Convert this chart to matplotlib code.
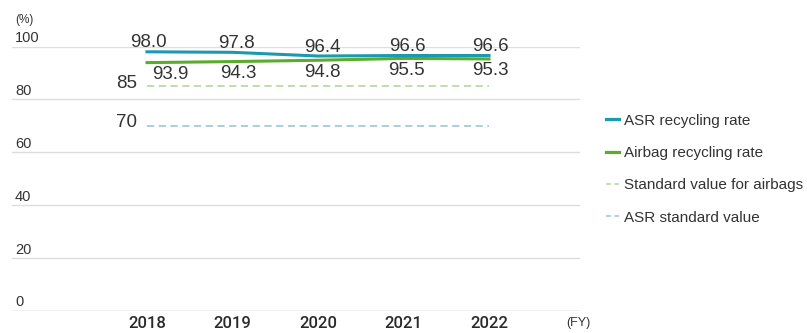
import matplotlib
matplotlib.use("Agg")
import matplotlib.pyplot as plt
from matplotlib.lines import Line2D

plt.rcParams['font.family'] = ['Liberation Sans', 'DejaVu Sans']

years = ["2018", "2019", "2020", "2021", "2022"]
asr_rate = [98.0, 97.8, 96.4, 96.6, 96.6]
airbag_rate = [93.9, 94.3, 94.8, 95.5, 95.3]
airbag_standard = 85
asr_standard = 70
y_ticks = [0, 20, 40, 60, 80, 100]

c_asr = "#1b9aaf"
c_airbag = "#5aab2e"
c_airbag_std = "#bcd9a6"
c_asr_std = "#a3cbd2"
c_text = "#333333"

W, H = 807, 333
PT = 0.72  # points per pixel at 100 dpi
fig = plt.figure(figsize=(W / 100, H / 100), dpi=100)
ax_left, ax_right, ax_top, ax_bottom = 12, 580, 46.5, 311
ax = fig.add_axes([ax_left / W, (H - ax_bottom) / H,
                   (ax_right - ax_left) / W, (ax_bottom - ax_top) / H])

x = list(range(len(years)))
x0_px, step_px = 147, 85.5
ax.set_xlim((ax_left - x0_px) / step_px, (ax_right - x0_px) / step_px)
ax.set_ylim(0, 100)

for s in ax.spines.values():
    s.set_visible(False)
ax.set_xticks([])
ax.set_yticks([])

for v in y_ticks:
    ax.axhline(v, color="#b4b4b4" if v == 0 else "#dedede", lw=1.0, zorder=0)
    ax.annotate(str(v), xy=(0, v), xycoords=("axes fraction", "data"),
                xytext=(3 * PT, 1.5 * PT), textcoords="offset points",
                ha="left", va="bottom", fontsize=10.5, color=c_text)

ax.annotate("(%)", xy=(0, 1), xycoords="axes fraction",
            xytext=(3 * PT, 27 * PT), textcoords="offset points",
            ha="left", va="center", fontsize=8.5, color=c_text)

xs_std = [x[0], x[-1]]
ax.plot(xs_std, [airbag_standard] * 2, color=c_airbag_std, lw=1.3,
        ls=(0, (4, 2.5)), zorder=1)
ax.plot(xs_std, [asr_standard] * 2, color=c_asr_std, lw=1.3,
        ls=(0, (4, 2.5)), zorder=1)
ax.plot(x, airbag_rate, color=c_airbag, lw=2.2, zorder=2)
ax.plot(x, asr_rate, color=c_asr, lw=2.2, zorder=3)

lbl_size = 13.5
asr_dx = [1, 4, 4, 4, 1]
airbag_dx = [23, 6, 4, 3, 1]
for xi, v, dx in zip(x, asr_rate, asr_dx):
    ax.annotate(f"{v:.1f}", xy=(xi, v), xytext=(dx * PT, 0.5 * PT),
                textcoords="offset points", ha="center", va="bottom",
                fontsize=lbl_size, color=c_text)
for xi, v, dx in zip(x, airbag_rate, airbag_dx):
    ax.annotate(f"{v:.1f}", xy=(xi, v), xytext=(dx * PT, -3.5 * PT),
                textcoords="offset points", ha="center", va="top",
                fontsize=lbl_size, color=c_text)
ax.annotate(str(airbag_standard), xy=(x[0], airbag_standard),
            xytext=(-10 * PT, 3 * PT), textcoords="offset points",
            ha="right", va="center", fontsize=lbl_size, color=c_text)
ax.annotate(str(asr_standard), xy=(x[0], asr_standard),
            xytext=(-10 * PT, 3 * PT), textcoords="offset points",
            ha="right", va="center", fontsize=lbl_size, color=c_text)

for xi, yr in zip(x, years):
    ax.annotate(yr, xy=(xi, 0), xytext=(0, -5 * PT), textcoords="offset points",
                ha="center", va="top", fontsize=12, color="#2a2a2a",
                family=["Roboto", "Liberation Sans"], fontweight="medium")
ax.annotate("(FY)", xy=(1, 0), xycoords="axes fraction",
            xytext=(-2 * PT, -6 * PT), textcoords="offset points",
            ha="center", va="top", fontsize=9, color=c_text)

handles = [
    Line2D([], [], color=c_asr, lw=2.3),
    Line2D([], [], color=c_airbag, lw=2.3),
    Line2D([], [], color=c_airbag_std, lw=1.2, ls=(0, (3, 2))),
    Line2D([], [], color=c_asr_std, lw=1.2, ls=(0, (3, 2))),
]
labels = ["ASR recycling rate", "Airbag recycling rate",
          "Standard value for airbags", "ASR standard value"]
fig.legend(handles, labels, loc="upper left",
           bbox_to_anchor=(592 / W, 1 - 100 / H), frameon=False,
           fontsize=11, handlelength=0.85, handletextpad=0.32,
           labelspacing=1.2, labelcolor=c_text)

fig.savefig("out.png", dpi=100)
